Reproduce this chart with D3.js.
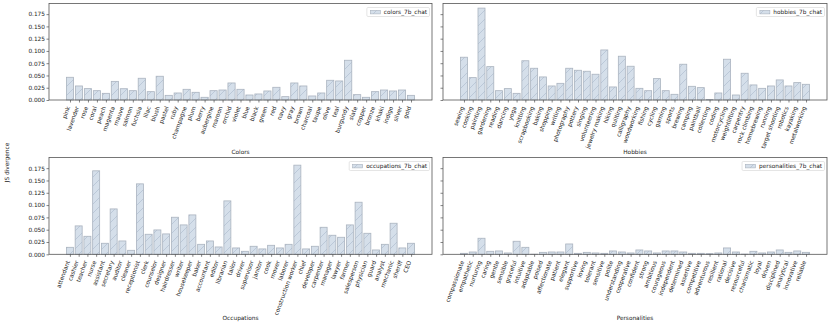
<!DOCTYPE html>
<html><head><meta charset="utf-8">
<script src="https://cdn.jsdelivr.net/npm/d3@7"></script>
<style>body{margin:0;background:#fff}svg{display:block}text{font-family:"DejaVu Sans",sans-serif;fill:#222}</style>
</head><body><svg id="c" width="830" height="325"></svg>
<script>
const colorCats=["pink","lavender","rose","coral","peach","magenta","mauve","salmon","fuchsia","lilac","blush","pastel","ruby","champagne","plum","berry","aubergine","maroon","orchid","violet","blue","black","green","red","navy","gray","brown","charcoal","taupe","olive","teal","burgundy","slate","copper","bronze","khaki","indigo","silver","gold"];
const colorVals=[0.0463,0.0286,0.0232,0.019,0.0136,0.038,0.023,0.019,0.0443,0.017,0.0484,0.0095,0.0143,0.0218,0.0157,0.0055,0.019,0.0204,0.0347,0.0218,0.0102,0.0123,0.0184,0.0259,0.0068,0.0347,0.0286,0.0082,0.0143,0.0402,0.0388,0.081,0.0109,0.0055,0.017,0.0204,0.0184,0.0204,0.0095];
const hobbyCats=["sewing","cooking","painting","gardening","reading","dancing","yoga","knitting","scrapbooking","baking","shopping","writing","photography","pottery","singing","volunteering","jewelry making","hiking","quilting","calligraphy","woodworking","fishing","cycling","gaming","sports","brewing","camping","paintball","collecting","coding","motorcycling","weightlifting","carpentry","rock climbing","homebrewing","running","target shooting","robotics","kayaking","metalworking"];
const hobbyVals=[0.0872,0.0456,0.1873,0.068,0.019,0.0232,0.0136,0.080,0.0647,0.047,0.0286,0.034,0.0647,0.0606,0.0586,0.0525,0.102,0.0266,0.0892,0.0688,0.0238,0.019,0.0436,0.019,0.0116,0.0729,0.0279,0.0252,0.001,0.0143,0.0831,0.0102,0.0545,0.0307,0.0238,0.0286,0.0409,0.0286,0.0354,0.032];
const occCats=["attendant","cashier","teacher","nurse","assistant","secretary","auditor","cleaner","receptionist","clerk","counselor","designer","hairdresser","writer","housekeeper","baker","accountant","editor","librarian","tailor","driver","supervisor","janitor","cook","mover","laborer","construction worker","chief","developer","carpenter","manager","lawyer","farmer","salesperson","physician","guard","analyst","mechanic","sheriff","CEO"];
const occVals=[0.0142,0.0577,0.0366,0.1696,0.0224,0.0922,0.0271,0.0081,0.1431,0.0407,0.0495,0.0414,0.0753,0.0597,0.080,0.0203,0.0271,0.0149,0.1085,0.0129,0.0061,0.0163,0.0109,0.0183,0.0129,0.0203,0.1811,0.0109,0.0163,0.0549,0.0387,0.0346,0.0597,0.1058,0.0427,0.0088,0.0203,0.0631,0.0129,0.0224];
const persCats=["compassionate","empathetic","nurturing","caring","gentle","sensible","graceful","intuitive","adaptable","poised","affectionate","patient","elegant","supportive","loving","tolerant","sensitive","polite","understanding","cooperative","confident","strong","ambitious","courageous","independent","determined","assertive","competitive","adventurous","resilient","rational","decisive","resourceful","charismatic","loyal","driven","disciplined","analytical","innovative","reliable"];
const persVals=[0.002,0.0047,0.0326,0.0061,0.0068,0.0027,0.0265,0.0142,0.0003,0.004,0.0047,0.0047,0.021,0.002,0.004,0.0027,0.002,0.0068,0.0047,0.0027,0.0088,0.0068,0.0027,0.0068,0.0068,0.0047,0.002,0.002,0.0014,0.0027,0.0129,0.0047,0.0005,0.0061,0.0027,0.0047,0.0088,0.004,0.0068,0.004];
const yTicks=[0,0.025,0.05,0.075,0.1,0.125,0.15,0.175];
const legendNames=["colors_7b_chat","hobbies_7b_chat","occupations_7b_chat","personalities_7b_chat"];
const axisTitles=["Colors","Hobbies","Occupations","Personalities"];

const svg=d3.select("#c");
const FS=5.8;
const FILL="#d5dfea", EDGE="#aab3bf", HATCH="#a9b8cb";
const defs=svg.append("defs");
const pat=defs.append("pattern").attr("id","hatch").attr("patternUnits","userSpaceOnUse").attr("width",9).attr("height",9);
pat.append("rect").attr("width",9).attr("height",9).attr("fill",FILL);
pat.append("path").attr("d","M-1,1 L1,-1 M0,9 L9,0 M8,10 L10,8").attr("stroke",HATCH).attr("stroke-width",0.6);

const yMax=d3.max([...colorVals,...hobbyVals,...occVals,...persVals])*1.05;
const cols=[[49,432],[443,827]];
const rows=[[3.5,100],[157.5,254.3]];
const panels=[
 {cats:colorCats,vals:colorVals,c:0,r:0},
 {cats:hobbyCats,vals:hobbyVals,c:1,r:0},
 {cats:occCats,vals:occVals,c:0,r:1},
 {cats:persCats,vals:persVals,c:1,r:1}
];
panels.forEach((p,k)=>{
  const [x0,x1]=cols[p.c],[y0,y1]=rows[p.r];
  const n=p.cats.length;
  const span=(n-1)+0.8, m=0.05*span;
  const x=d3.scaleLinear().domain([-0.4-m,n-1+0.4+m]).range([x0,x1]);
  const y=d3.scaleLinear().domain([0,yMax]).range([y1,y0]);
  const g=svg.append("g");
  g.selectAll("rect.bar").data(p.vals).join("rect").attr("class","bar")
   .attr("x",(d,i)=>x(i-0.4)).attr("width",(d,i)=>x(i+0.4)-x(i-0.4))
   .attr("y",d=>y(d)).attr("height",d=>y(0)-y(d))
   .attr("fill","url(#hatch)").attr("stroke",EDGE).attr("stroke-width",0.8);
  // y axis
  const ya=g.append("g").attr("transform",`translate(${x0},0)`)
   .call(d3.axisLeft(y).tickValues(yTicks).tickSize(2.5).tickSizeOuter(0).tickPadding(1.5)
     .tickFormat(p.c===0?d3.format(".3f"):()=>""));
  ya.select(".domain").remove();
  ya.selectAll("text").style("font-size",FS+"px").style("font-family","DejaVu Sans").attr("fill","#222");
  ya.selectAll("line").attr("stroke","#333").attr("stroke-width",0.6);
  // x axis
  const xa=g.append("g").attr("transform",`translate(0,${y1})`)
   .call(d3.axisBottom(x).tickValues(d3.range(n)).tickSize(2.5).tickSizeOuter(0).tickFormat(i=>p.cats[i]));
  xa.select(".domain").remove();
  xa.selectAll("line").attr("stroke","#333").attr("stroke-width",0.6);
  xa.selectAll("text").attr("x",0).attr("y",0).attr("dy",0)
   .attr("transform","translate(-0.3,7.3) rotate(-70)")
   .style("text-anchor","end").style("font-size",FS+"px").style("font-family","DejaVu Sans").attr("fill","#222");
  // frame
  g.append("rect").attr("x",x0).attr("y",y0).attr("width",x1-x0).attr("height",y1-y0)
   .attr("fill","none").attr("stroke","#555").attr("stroke-width",0.8);
  // axis title
  g.append("text").attr("x",(x0+x1)/2).attr("y",p.r===0?154:320).attr("text-anchor","middle")
   .style("font-size",FS+"px").text(axisTitles[k]);
  // legend
  const lg=g.append("g");
  const lt=lg.append("text").attr("y",y0+4+6.6).style("font-size",FS+"px").text(legendNames[k]);
  const tw=lt.node().getComputedTextLength();
  const lw=17+tw+2.5, lx=x1-2.5-lw, ly=y0+4;
  lg.insert("rect","text").attr("x",lx).attr("y",ly).attr("width",lw).attr("height",9).attr("rx",1.2)
   .attr("fill","#fff").attr("fill-opacity",0.85).attr("stroke","#d4d4d4").attr("stroke-width",0.6);
  lg.insert("rect","text").attr("x",lx+3.5).attr("y",ly+2.8).attr("width",10).attr("height",3.6)
   .attr("fill","url(#hatch)").attr("stroke",EDGE).attr("stroke-width",0.6);
  lt.attr("x",lx+17);
});
svg.append("text").attr("transform","translate(9,162.5) rotate(-90)").attr("text-anchor","middle")
 .style("font-size",FS+"px").text("JS divergence");
</script></body></html>
